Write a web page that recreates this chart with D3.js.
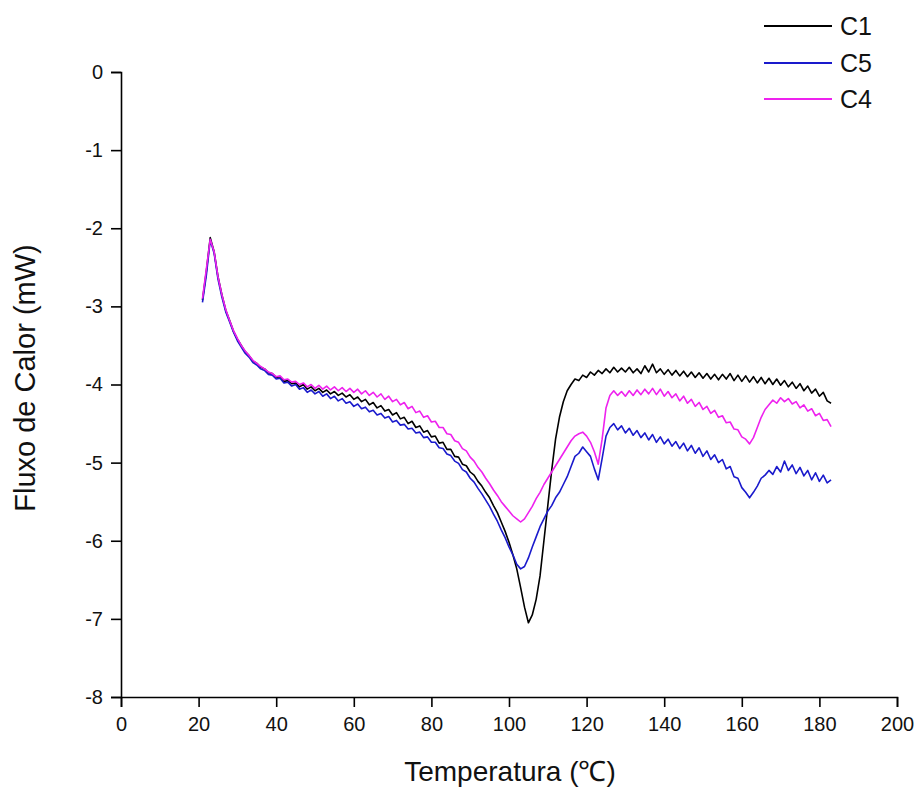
<!DOCTYPE html>
<html>
<head>
<meta charset="utf-8">
<script src="https://cdn.jsdelivr.net/npm/d3@7"></script>
<style>
  body { margin: 0; background: #fff; }
  svg { display: block; font-family: "Liberation Sans", Arial, sans-serif; }
</style>
</head>
<body>
<div id="chart"></div>
<script>
// temperatures run 21..183 °C in 1 °C steps
const tStart = 21;

const c1 = [
  -2.92, -2.55, -2.12, -2.30, -2.62, -2.85, -3.05, -3.18, -3.32, -3.42,
  -3.50, -3.58, -3.63, -3.70, -3.73, -3.78, -3.80, -3.85, -3.86, -3.91,
  -3.90, -3.96, -3.95, -3.99, -3.98, -4.03, -4.00, -4.06, -4.03, -4.08,
  -4.05, -4.10, -4.07, -4.12, -4.09, -4.14, -4.11, -4.16, -4.13, -4.19,
  -4.16, -4.22, -4.19, -4.26, -4.23, -4.30, -4.27, -4.34, -4.32, -4.39,
  -4.36, -4.44, -4.42, -4.50, -4.47, -4.55, -4.53, -4.61, -4.59, -4.67,
  -4.66, -4.75, -4.74, -4.83, -4.83, -4.92, -4.93, -5.02, -5.04, -5.12,
  -5.16, -5.24, -5.30, -5.38, -5.45, -5.55, -5.64, -5.76, -5.88, -6.02,
  -6.18, -6.36, -6.60, -6.85, -7.05, -6.95, -6.75, -6.45, -6.00, -5.55,
  -5.10, -4.70, -4.42, -4.22, -4.08, -4.00, -3.93, -3.95, -3.88, -3.91,
  -3.84, -3.88, -3.82, -3.86, -3.80, -3.85, -3.78, -3.84, -3.79, -3.84,
  -3.78, -3.85, -3.80, -3.86, -3.76, -3.84, -3.74, -3.85, -3.80, -3.87,
  -3.81, -3.88, -3.82, -3.89, -3.83, -3.90, -3.84, -3.91, -3.85, -3.92,
  -3.86, -3.93, -3.87, -3.94, -3.87, -3.93, -3.86, -3.95, -3.88, -3.96,
  -3.89, -3.97, -3.90, -3.98, -3.91, -3.99, -3.92, -4.00, -3.93, -4.01,
  -3.95, -4.03, -3.97, -4.05, -3.99, -4.08, -4.02, -4.11, -4.06, -4.15,
  -4.10, -4.21, -4.24
];

const c5 = [
  -2.95, -2.60, -2.15, -2.32, -2.65, -2.88, -3.07, -3.20, -3.33, -3.44,
  -3.52, -3.60, -3.65, -3.72, -3.75, -3.80, -3.82, -3.87, -3.88, -3.93,
  -3.92, -3.98, -3.97, -4.02, -4.00, -4.06, -4.04, -4.10, -4.07, -4.12,
  -4.09, -4.15, -4.12, -4.18, -4.15, -4.21, -4.18, -4.24, -4.22, -4.28,
  -4.25, -4.31, -4.29, -4.35, -4.33, -4.39, -4.37, -4.43, -4.41, -4.48,
  -4.46, -4.52, -4.51, -4.57, -4.56, -4.62, -4.61, -4.68, -4.67, -4.74,
  -4.74, -4.81, -4.82, -4.89, -4.91, -4.98, -5.01, -5.09, -5.12, -5.20,
  -5.25, -5.33, -5.40, -5.48, -5.56, -5.66, -5.75, -5.86, -5.96, -6.08,
  -6.18, -6.30, -6.36, -6.33, -6.22, -6.08, -5.95, -5.82, -5.72, -5.62,
  -5.55, -5.45, -5.38, -5.28, -5.18, -5.05, -4.92, -4.88, -4.80, -4.86,
  -4.92, -5.08, -5.22, -4.95, -4.66, -4.55, -4.50, -4.58, -4.53, -4.62,
  -4.56, -4.65, -4.59, -4.68, -4.62, -4.71, -4.64, -4.74, -4.67, -4.76,
  -4.70, -4.79, -4.73, -4.82, -4.75, -4.85, -4.78, -4.88, -4.81, -4.92,
  -4.85, -4.96, -4.90, -5.00, -4.96, -5.08, -5.05, -5.18, -5.20, -5.32,
  -5.38, -5.45, -5.38, -5.30, -5.20, -5.16, -5.10, -5.15, -5.05, -5.12,
  -4.98, -5.10, -5.03, -5.14, -5.06, -5.17, -5.10, -5.22, -5.13, -5.24,
  -5.16, -5.26, -5.22
];

const c4 = [
  -2.90, -2.52, -2.14, -2.30, -2.62, -2.85, -3.04, -3.18, -3.31, -3.41,
  -3.50, -3.57, -3.63, -3.69, -3.73, -3.77, -3.80, -3.84, -3.86, -3.90,
  -3.89, -3.94, -3.93, -3.97, -3.96, -4.00, -3.98, -4.03, -4.00, -4.05,
  -4.01, -4.06, -4.02, -4.07, -4.03, -4.08, -4.04, -4.09, -4.05, -4.10,
  -4.06, -4.12, -4.08, -4.14, -4.10, -4.16, -4.12, -4.19, -4.15, -4.22,
  -4.19, -4.26, -4.23, -4.31, -4.28, -4.36, -4.34, -4.42, -4.40, -4.48,
  -4.47, -4.55, -4.55, -4.63, -4.64, -4.72, -4.74, -4.82, -4.85, -4.93,
  -4.98, -5.06, -5.12, -5.20, -5.27, -5.35, -5.42, -5.50, -5.56, -5.62,
  -5.68, -5.72, -5.76, -5.72, -5.64, -5.56, -5.46, -5.38, -5.28, -5.20,
  -5.12, -5.04, -4.96, -4.88, -4.80, -4.72, -4.66, -4.63, -4.61, -4.66,
  -4.74, -4.86, -5.02, -4.70, -4.30, -4.14, -4.08, -4.14, -4.09, -4.15,
  -4.08, -4.14, -4.07, -4.13, -4.06, -4.12, -4.05, -4.13, -4.06, -4.15,
  -4.09, -4.17, -4.12, -4.21, -4.15, -4.24, -4.19, -4.28, -4.23, -4.32,
  -4.28, -4.37, -4.33, -4.42, -4.40, -4.49, -4.48, -4.57, -4.58, -4.67,
  -4.70, -4.76, -4.68, -4.55, -4.42, -4.32, -4.26, -4.20, -4.24, -4.17,
  -4.22, -4.18, -4.25, -4.22, -4.30, -4.26, -4.34, -4.31, -4.40, -4.37,
  -4.46, -4.45, -4.54
];

const seriesNames = ["C1", "C5", "C4"];
const seriesColors = ["#000000", "#1a1acc", "#ee22ee"];
const seriesValues = [c1, c5, c4];

const xTicks = [0, 20, 40, 60, 80, 100, 120, 140, 160, 180, 200];
const yTicks = [0, -1, -2, -3, -4, -5, -6, -7, -8];

const width = 917, height = 790;
const margin = { left: 121, right: 20, top: 72, bottom: 93 };

const svg = d3.select("#chart").append("svg")
  .attr("width", width)
  .attr("height", height);

const x = d3.scaleLinear().domain([0, 200]).range([margin.left, 897]);
const y = d3.scaleLinear().domain([-8, 0]).range([697, margin.top]);

// plain hyphen minus, as in the original
const fmt = d => String(d);

// axes: major + minor ticks
const xAxis = svg.append("g").attr("transform", `translate(0,${y(-8)})`);
xAxis.call(d3.axisBottom(x).tickValues(d3.range(10, 200, 20)).tickSize(6).tickFormat(""));
xAxis.call(d3.axisBottom(x).tickValues(xTicks).tickSize(10).tickPadding(7).tickFormat(fmt));

const yAxis = svg.append("g").attr("transform", `translate(${x(0)},0)`);
yAxis.call(d3.axisLeft(y).tickValues(d3.range(-7.5, 0, 1)).tickSize(6).tickFormat(""));
yAxis.call(d3.axisLeft(y).tickValues(yTicks).tickSize(10).tickPadding(8).tickFormat(fmt));

svg.selectAll(".domain").attr("stroke", "#000").attr("stroke-width", 1.6);
svg.selectAll(".tick line").attr("stroke", "#000").attr("stroke-width", 1.6);
svg.selectAll(".tick text")
  .attr("fill", "#111")
  .style("font-size", "20px")
  .style("font-family", "Liberation Sans, Arial, sans-serif");

// x labels sit a bit lower
xAxis.selectAll(".tick text").attr("dy", "0.85em");

// series lines
const line = d3.line()
  .x((d, i) => x(tStart + i))
  .y(d => y(d));

seriesValues.forEach((vals, k) => {
  svg.append("path")
    .datum(vals)
    .attr("fill", "none")
    .attr("stroke", seriesColors[k])
    .attr("stroke-width", 1.6)
    .attr("stroke-linejoin", "round")
    .attr("d", line);
});

// axis titles
svg.append("text")
  .attr("x", 510)
  .attr("y", 781)
  .attr("text-anchor", "middle")
  .style("font-size", "28px")
  .attr("fill", "#111")
  .text("Temperatura (℃)");

svg.append("text")
  .attr("transform", "translate(35,378) rotate(-90)")
  .attr("text-anchor", "middle")
  .style("font-size", "29px")
  .attr("fill", "#111")
  .text("Fluxo de Calor (mW)");

// legend
const legend = svg.append("g");
const legendY = [26, 63, 99];
seriesNames.forEach((name, k) => {
  legend.append("line")
    .attr("x1", 764).attr("x2", 832)
    .attr("y1", legendY[k]).attr("y2", legendY[k])
    .attr("stroke", seriesColors[k])
    .attr("stroke-width", 2);
  legend.append("text")
    .attr("x", 840)
    .attr("y", legendY[k])
    .attr("dy", "0.36em")
    .style("font-size", "25px")
    .attr("fill", "#111")
    .text(name);
});
</script>
</body>
</html>
